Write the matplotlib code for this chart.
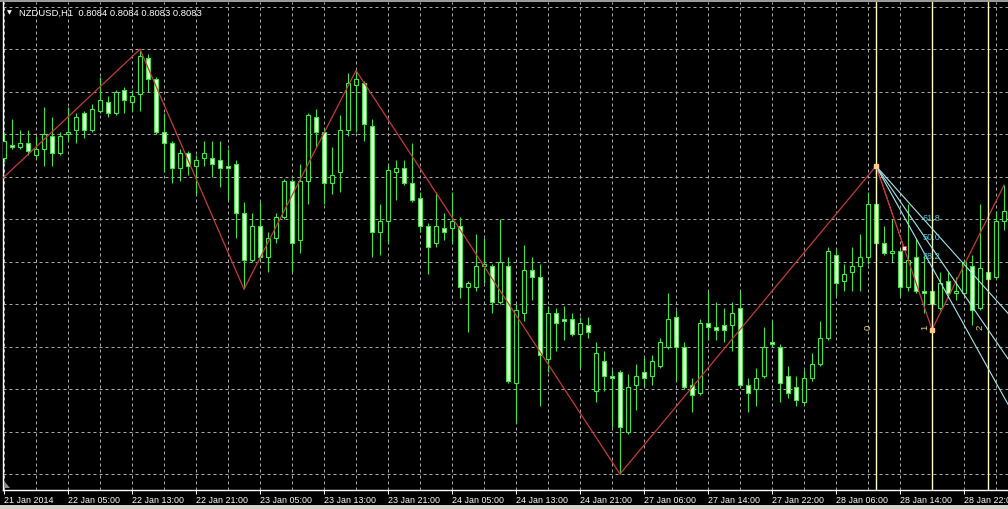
import numpy as np
import matplotlib
matplotlib.use("Agg")
import matplotlib.pyplot as plt
from matplotlib.patches import Rectangle, Polygon

plt.rcParams['font.family'] = ['Liberation Sans', 'DejaVu Sans']

# NZDUSD H1 candles (one per hour)
opens = [
    0.8329, 0.8335, 0.8334, 0.8336, 0.8330, 0.8333, 0.8339, 0.8331, 0.8340, 0.8342,
    0.8350, 0.8342, 0.8351, 0.8355, 0.8350, 0.8361, 0.8355, 0.8359, 0.8376, 0.8366,
    0.8341, 0.8336, 0.8324, 0.8331, 0.8325, 0.8329, 0.8329, 0.8328, 0.8325, 0.8326,
    0.8303, 0.8281, 0.8297, 0.8282, 0.8291, 0.8301, 0.8318, 0.8290, 0.8318, 0.8348,
    0.8341, 0.8317, 0.8322, 0.8342, 0.8363, 0.8364, 0.8344, 0.8294, 0.8299, 0.8322,
    0.8324, 0.8317, 0.8310, 0.8297, 0.8289, 0.8296, 0.8296, 0.8297, 0.8268, 0.8268,
    0.8278, 0.8278, 0.8261, 0.8278, 0.8223, 0.8256, 0.8276, 0.8273, 0.8234, 0.8256,
    0.8253, 0.8253, 0.8246, 0.8250, 0.8219, 0.8233, 0.8226, 0.8228, 0.8200, 0.8222,
    0.8228, 0.8226, 0.8231, 0.8240, 0.8254, 0.8240, 0.8222, 0.8218, 0.8251, 0.8249,
    0.8250, 0.8250, 0.8258, 0.8222, 0.8220, 0.8226, 0.8242, 0.8240, 0.8226, 0.8221,
    0.8214, 0.8225, 0.8232, 0.8244, 0.8283, 0.8271, 0.8275, 0.8278, 0.8282, 0.8307,
    0.8289, 0.8284, 0.8285, 0.8268, 0.8282, 0.8266, 0.8266, 0.8258, 0.8271, 0.8265,
    0.8265, 0.8278, 0.8258, 0.8275, 0.8273, 0.8299]
highs = [
    0.8341, 0.8347, 0.8342, 0.8342, 0.8339, 0.8353, 0.8348, 0.8341, 0.8353, 0.8350,
    0.8351, 0.8354, 0.8367, 0.8358, 0.8361, 0.8362, 0.8361, 0.8380, 0.8378, 0.8367,
    0.8350, 0.8337, 0.8333, 0.8332, 0.8330, 0.8337, 0.8337, 0.8337, 0.8333, 0.8328,
    0.8308, 0.8303, 0.8308, 0.8294, 0.8303, 0.8319, 0.8319, 0.8326, 0.8350, 0.8352,
    0.8343, 0.8334, 0.8349, 0.8369, 0.8370, 0.8365, 0.8347, 0.8307, 0.8326, 0.8328,
    0.8328, 0.8336, 0.8313, 0.8298, 0.8313, 0.8303, 0.8313, 0.8301, 0.8271, 0.8293,
    0.8291, 0.8279, 0.8300, 0.8282, 0.8260, 0.8288, 0.8282, 0.8279, 0.8259, 0.8258,
    0.8259, 0.8256, 0.8254, 0.8254, 0.8242, 0.8238, 0.8229, 0.8229, 0.8227, 0.8232,
    0.8235, 0.8236, 0.8244, 0.8265, 0.8257, 0.8242, 0.8225, 0.8253, 0.8266, 0.8261,
    0.8258, 0.8261, 0.8266, 0.8225, 0.8230, 0.8249, 0.8252, 0.8241, 0.8231, 0.8226,
    0.8229, 0.8237, 0.8252, 0.8287, 0.8286, 0.8279, 0.8287, 0.8293, 0.8313, 0.8325,
    0.8297, 0.8300, 0.8286, 0.8307, 0.8291, 0.8283, 0.8267, 0.8275, 0.8275, 0.8273,
    0.8281, 0.8283, 0.8307, 0.8279, 0.8304, 0.8316]
lows = [
    0.8327, 0.8333, 0.8333, 0.8330, 0.8329, 0.8325, 0.8325, 0.8330, 0.8337, 0.8336,
    0.8338, 0.8341, 0.8350, 0.8348, 0.8349, 0.8350, 0.8351, 0.8351, 0.8360, 0.8340,
    0.8322, 0.8317, 0.8318, 0.8321, 0.8312, 0.8325, 0.8320, 0.8315, 0.8309, 0.8291,
    0.8267, 0.8280, 0.8281, 0.8275, 0.8289, 0.8300, 0.8275, 0.8284, 0.8307, 0.8334,
    0.8307, 0.8312, 0.8313, 0.8339, 0.8341, 0.8337, 0.8282, 0.8283, 0.8289, 0.8309,
    0.8316, 0.8308, 0.8294, 0.8274, 0.8287, 0.8290, 0.8289, 0.8263, 0.8247, 0.8266,
    0.8270, 0.8256, 0.8260, 0.8223, 0.8204, 0.8252, 0.8262, 0.8212, 0.8228, 0.8238,
    0.8243, 0.8245, 0.8230, 0.8244, 0.8214, 0.8219, 0.8202, 0.8180, 0.8199, 0.8210,
    0.8221, 0.8222, 0.8230, 0.8239, 0.8224, 0.8220, 0.8209, 0.8217, 0.8243, 0.8243,
    0.8242, 0.8238, 0.8221, 0.8209, 0.8212, 0.8225, 0.8240, 0.8214, 0.8216, 0.8212,
    0.8213, 0.8224, 0.8231, 0.8243, 0.8264, 0.8266, 0.8266, 0.8266, 0.8279, 0.8281,
    0.8283, 0.8280, 0.8264, 0.8266, 0.8265, 0.8256, 0.8248, 0.8257, 0.8263, 0.8262,
    0.8264, 0.8250, 0.8257, 0.8271, 0.8272, 0.8295]
closes = [
    0.8337, 0.8334, 0.8336, 0.8332, 0.8333, 0.8340, 0.8331, 0.8339, 0.8341, 0.8348,
    0.8342, 0.8352, 0.8356, 0.8350, 0.8360, 0.8356, 0.8358, 0.8377, 0.8366, 0.8341,
    0.8336, 0.8324, 0.8331, 0.8325, 0.8328, 0.8331, 0.8326, 0.8324, 0.8324, 0.8303,
    0.8281, 0.8297, 0.8282, 0.8291, 0.8301, 0.8318, 0.8289, 0.8318, 0.8349, 0.8341,
    0.8317, 0.8321, 0.8342, 0.8364, 0.8366, 0.8345, 0.8294, 0.8299, 0.8323, 0.8324,
    0.8317, 0.8309, 0.8297, 0.8287, 0.8297, 0.8294, 0.8299, 0.8268, 0.8270, 0.8278,
    0.8279, 0.8261, 0.8280, 0.8224, 0.8257, 0.8276, 0.8273, 0.8236, 0.8256, 0.8251,
    0.8252, 0.8246, 0.8251, 0.8247, 0.8237, 0.8226, 0.8225, 0.8202, 0.8221, 0.8226,
    0.8225, 0.8233, 0.8242, 0.8253, 0.8240, 0.8221, 0.8217, 0.8251, 0.8249, 0.8248,
    0.8248, 0.8256, 0.8222, 0.8218, 0.8225, 0.8240, 0.8241, 0.8223, 0.8218, 0.8215,
    0.8225, 0.8232, 0.8244, 0.8285, 0.8270, 0.8274, 0.8278, 0.8282, 0.8307, 0.8289,
    0.8284, 0.8285, 0.8268, 0.8281, 0.8266, 0.8265, 0.8260, 0.8270, 0.8265, 0.8266,
    0.8280, 0.8257, 0.8277, 0.8272, 0.8299, 0.8304]

# time axis labels, one every 8 bars
tick_labels = ["21 Jan 2014", "22 Jan 05:00", "22 Jan 13:00", "22 Jan 21:00",
               "23 Jan 05:00", "23 Jan 13:00", "23 Jan 21:00", "24 Jan 05:00",
               "24 Jan 13:00", "24 Jan 21:00", "27 Jan 06:00", "27 Jan 14:00",
               "27 Jan 22:00", "28 Jan 06:00", "28 Jan 14:00", "28 Jan 22:00"]

# zigzag pivots (bar index, price); first one is off screen to the left
zz_bars = [-9, 17, 30, 44, 77, 109, 116, 125]
zz_prices = [0.8288, 0.8380, 0.8267, 0.8370, 0.8180, 0.8325, 0.8248, 0.8316]

# fibo fan from the 28 Jan high to the following low
fan_bars = [109, 116]
fan_prices = [0.8325, 0.8248]
fan_levels = [61.8, 50.0, 38.2]
# fibo time zones
tz_bars = [109, 116, 123]
tz_labels = ["0", "1", "2"]

title = "NZDUSD,H1  0.8084 0.8084 0.8083 0.8083"

green = '#42e442'
bear_fill = '#e4ffdc'

W, H = 1008, 509
fig = plt.figure(figsize=(W / 100, H / 100), dpi=100, facecolor='black')
ax = fig.add_axes([3 / W, 19 / H, 1005 / W, 488 / H])
ax.set_facecolor('black')
ax.set_xlim(-0.125, 125.5)
ax.set_ylim(0.817247, 0.840226)

# dashed grid
for k in range(0, 126, 4):
    ax.axvline(k, color='#a8a8a8', lw=0.72, dashes=(3, 3), zorder=1)
for p in np.arange(0.8180, 0.84005, 0.0020):
    ax.axhline(p, color='#a8a8a8', lw=0.72, dashes=(3, 3), zorder=1)

# candles
for i in range(len(opens)):
    o, h, l, c = opens[i], highs[i], lows[i], closes[i]
    ax.vlines(i, l, h, color=green, lw=0.8, zorder=3)
    fill = 'black' if c >= o else bear_fill
    ax.add_patch(Rectangle((i - 0.3, min(o, c)), 0.6, abs(c - o),
                           facecolor=fill, edgecolor=green, lw=0.8, zorder=4))

# zigzag
ax.plot(zz_bars, zz_prices, color='#c43a3a', lw=0.9, zorder=5)

# fibo time zones
for b, t in zip(tz_bars, tz_labels):
    ax.axvline(b, color='#fdfdc4', lw=1.0, zorder=6)
    ax.text(b - 0.95, 0.82492, t, color='#e2d86a', fontsize=6.8,
            rotation=90, ha='center', va='center', zorder=7)

# fibo fan
b1, b2 = fan_bars
p1, p2 = fan_prices
for lvl in fan_levels:
    p_at = p2 + lvl / 100 * (p1 - p2)
    slope = (p_at - p1) / (b2 - b1)
    ax.plot([b1, 131], [p1, p1 + slope * (131 - b1)], color='#a6e6ee',
            lw=0.8, zorder=6)
    ax.text(115.9, p_at + 0.00048, f"{lvl:.1f}", color='#4cc4d8',
            fontsize=6.6, ha='center', va='center', zorder=7)
mid_b, mid_p = (b1 + b2) / 2, (p1 + p2) / 2
ax.plot([b1, mid_b], [p1, mid_p], color='#e04040', lw=0.9, ls=':', zorder=6)
ax.plot([mid_b], [mid_p], marker='s', ms=3, mfc='white', mec='#e04040',
        mew=0.6, zorder=8)
ax.plot([b1, b2], [p1, p2], ls='none', marker='s', ms=2.6, mfc='#ffc890',
        mec='#ffc890', zorder=8)

# axes styling
for s in ['top', 'right']:
    ax.spines[s].set_visible(False)
ax.spines['left'].set_color('white')
ax.spines['bottom'].set_color('white')
ax.spines['left'].set_linewidth(1.0)
ax.spines['bottom'].set_linewidth(1.0)
ax.set_yticks([])
ax.set_xticks(range(0, 121, 8))
ax.set_xticklabels(tick_labels, fontsize=6.4, color='white')
for lbl in ax.get_xticklabels():
    lbl.set_horizontalalignment('left')
ax.tick_params(axis='x', colors='white', length=2.6, width=0.72, pad=1.5)

# title
fig.text(9.5 / W, 1 - 13 / H, "\u25bc", color='white', fontsize=4.5,
         ha='center', va='center', family='DejaVu Sans')
fig.text(19 / W, 1 - 13 / H, title, color='white', fontsize=6.8,
         ha='left', va='center')

# window chrome
fig.patches.append(Rectangle((0, 0), 1, 4 / H, transform=fig.transFigure,
                             facecolor='#d4d0c8', edgecolor='none'))
fig.patches.append(Rectangle((0, 1 - 1.5 / H), 1, 1.5 / H, transform=fig.transFigure,
                             facecolor='#9a9a9a', edgecolor='none'))
fig.patches.append(Polygon([[4 / W, 1 - 488 / H], [4 / W, 1 - 481 / H], [10 / W, 1 - 488 / H]],
                           closed=True, transform=fig.transFigure,
                           facecolor='#8c8c8c', edgecolor='none'))

fig.savefig("out.png", dpi=100, facecolor='black')
